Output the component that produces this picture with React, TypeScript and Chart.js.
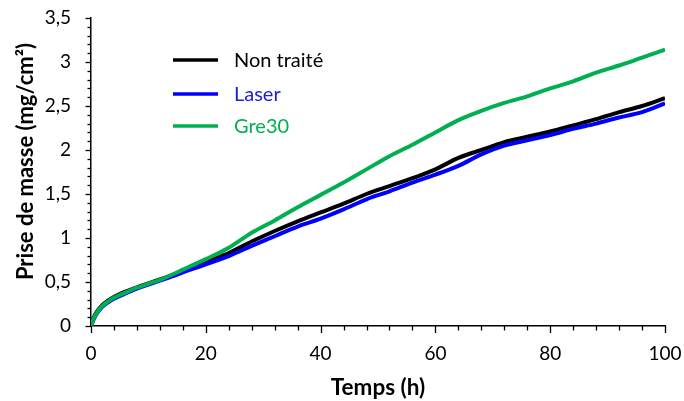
import React, { useEffect, useRef } from "react";
import { Chart, registerables } from "chart.js";

Chart.register(...registerables);

// ---- Data ----
const TIME = [0, 0.5, 1, 2, 3, 4, 6, 8, 10, 12, 14, 16, 18, 20, 24, 28, 32, 36, 40, 44, 48, 52, 56, 60, 64, 68, 72, 76, 80, 84, 88, 92, 96, 100];
const NON_TRAITE = [0, 0.1, 0.16, 0.24, 0.29, 0.33, 0.39, 0.44, 0.485, 0.53, 0.575, 0.63, 0.68, 0.73, 0.83, 0.96, 1.08, 1.19, 1.29, 1.39, 1.5, 1.59, 1.68, 1.78, 1.91, 2.0, 2.09, 2.15, 2.21, 2.28, 2.35, 2.43, 2.5, 2.59];
const LASER = [0, 0.08, 0.14, 0.22, 0.27, 0.31, 0.37, 0.425, 0.47, 0.515, 0.56, 0.61, 0.655, 0.7, 0.795, 0.91, 1.02, 1.13, 1.22, 1.325, 1.44, 1.53, 1.63, 1.72, 1.82, 1.95, 2.05, 2.11, 2.17, 2.24, 2.3, 2.37, 2.43, 2.53];
const GRE30 = [0, 0.09, 0.15, 0.23, 0.28, 0.32, 0.38, 0.435, 0.48, 0.525, 0.58, 0.64, 0.7, 0.76, 0.89, 1.06, 1.2, 1.35, 1.49, 1.63, 1.78, 1.93, 2.06, 2.2, 2.34, 2.445, 2.535, 2.61, 2.7, 2.78, 2.88, 2.96, 3.05, 3.14];

const SERIES_LABELS = ["Non traité", "Laser", "Gre30"];
const SERIES_COLORS = ["#000000", "#0000FF", "#00B050"];
const LEGEND_TEXT_COLORS = ["#000000", "#2020D0", "#00B050"];

const X_MIN = 0, X_MAX = 100, X_MAJOR = 20, X_MINOR = 4;
const Y_MIN = 0, Y_MAX = 3.5, Y_MAJOR = 0.5, Y_MINOR = 0.1;

const X_TITLE = "Temps (h)";
const Y_TITLE = "Prise de masse (mg/cm²)";

const FONT = "Lato, 'Open Sans', sans-serif";

const fmt = (v: number) => {
  const r = Math.round(v * 10) / 10;
  return String(r).replace(".", ",");
};

const tickMarks = {
  id: "tickMarks",
  afterDraw(chart: any) {
    const { ctx } = chart;
    const xs = chart.scales.x;
    const ys = chart.scales.y;
    ctx.save();
    ctx.strokeStyle = "#000";
    ctx.lineWidth = 1.3;
    const nY = Math.round((Y_MAX - Y_MIN) / Y_MINOR);
    const perY = Math.round(Y_MAJOR / Y_MINOR);
    for (let i = 0; i <= nY; i++) {
      const v = Y_MIN + i * Y_MINOR;
      const py = Math.round(ys.getPixelForValue(v)) + 0.5;
      const len = i % perY === 0 ? 5.5 : 3.5;
      ctx.beginPath();
      ctx.moveTo(xs.left, py);
      ctx.lineTo(xs.left - len, py);
      ctx.stroke();
    }
    const nX = Math.round((X_MAX - X_MIN) / X_MINOR);
    for (let i = 0; i <= nX; i++) {
      const v = X_MIN + i * X_MINOR;
      const px = Math.round(xs.getPixelForValue(v)) + 0.5;
      const len = (v % X_MAJOR) === 0 ? 7 : 4.5;
      ctx.beginPath();
      ctx.moveTo(px, ys.bottom);
      ctx.lineTo(px, ys.bottom + len);
      ctx.stroke();
    }
    ctx.restore();
  },
};

const yTitle = {
  id: "yTitle",
  afterDraw(chart: any) {
    const { ctx } = chart;
    ctx.save();
    ctx.translate(25.5, 161.5);
    ctx.rotate(-Math.PI / 2);
    ctx.font = `bold 22px ${FONT}`;
    ctx.fillStyle = "#000";
    ctx.textAlign = "center";
    ctx.textBaseline = "middle";
    ctx.fillText(Y_TITLE, 0, 0);
    ctx.restore();
  },
};

const innerLegend = {
  id: "innerLegend",
  afterDatasetsDraw(chart: any) {
    const { ctx } = chart;
    const x0 = 173, x1 = 218, tx = 234;
    const rows = [60, 94, 126];
    ctx.save();
    ctx.font = `20px ${FONT}`;
    ctx.textBaseline = "middle";
    ctx.textAlign = "left";
    SERIES_LABELS.forEach((lab, i) => {
      ctx.strokeStyle = SERIES_COLORS[i];
      ctx.lineWidth = 3.5;
      ctx.beginPath();
      ctx.moveTo(x0, rows[i]);
      ctx.lineTo(x1, rows[i]);
      ctx.stroke();
      ctx.fillStyle = LEGEND_TEXT_COLORS[i];
      ctx.fillText(lab, tx, rows[i] + 1);
    });
    ctx.restore();
  },
};

export default function App() {
  const ref = useRef<HTMLCanvasElement | null>(null);

  useEffect(() => {
    if (!ref.current) return;
    const mk = (vals: number[]) => TIME.map((t, i) => ({ x: t, y: vals[i] }));
    const seriesVals = [NON_TRAITE, LASER, GRE30];
    const orders = [2, 1, 0];
    const chart = new Chart(ref.current, {
      type: "line",
      data: {
        datasets: seriesVals.map((vals, i) => ({
          label: SERIES_LABELS[i],
          data: mk(vals),
          borderColor: SERIES_COLORS[i],
          backgroundColor: SERIES_COLORS[i],
          borderWidth: 4,
          pointRadius: 0,
          fill: false,
          cubicInterpolationMode: "monotone" as const,
          order: orders[i],
        })),
      },
      options: {
        animation: false,
        responsive: false,
        events: [],
        layout: { autoPadding: false, padding: { top: 18, right: 19, left: 0, bottom: 0 } },
        plugins: { legend: { display: false }, tooltip: { enabled: false } },
        scales: {
          x: {
            type: "linear",
            min: X_MIN,
            max: X_MAX,
            grid: { display: false, drawTicks: false, tickLength: 0 },
            border: { display: true, color: "#000", width: 1.5 },
            ticks: {
              stepSize: X_MAJOR,
              color: "#000",
              font: { family: FONT, size: 19 },
              padding: 16,
              maxRotation: 0,
              callback: (v: any) => fmt(Number(v)),
            },
            title: {
              display: true,
              text: X_TITLE,
              color: "#000",
              font: { family: FONT, size: 22.5, weight: "bold" },
              padding: { top: 0, bottom: 0 },
            },
            afterFit: (s: any) => {
              s.height = 75;
              s.paddingLeft = 0;
              s.paddingRight = 0;
            },
          },
          y: {
            type: "linear",
            min: Y_MIN,
            max: Y_MAX,
            grid: { display: false, drawTicks: false, tickLength: 0 },
            border: { display: true, color: "#000", width: 1.5 },
            ticks: {
              stepSize: Y_MAJOR,
              color: "#000",
              font: { family: FONT, size: 19 },
              padding: 20,
              callback: (v: any) => fmt(Number(v)),
            },
            title: { display: false, text: Y_TITLE },
            afterFit: (s: any) => {
              s.width = 91;
              s.paddingTop = 0;
              s.paddingBottom = 0;
            },
          },
        },
      },
      plugins: [tickMarks, innerLegend, yTitle],
    });
    return () => chart.destroy();
  }, []);

  return (
    <div style={{ position: "absolute", left: 0, top: 0, width: 684, height: 401, background: "#fff" }}>
      <canvas ref={ref} width={684} height={401} />
    </div>
  );
}
